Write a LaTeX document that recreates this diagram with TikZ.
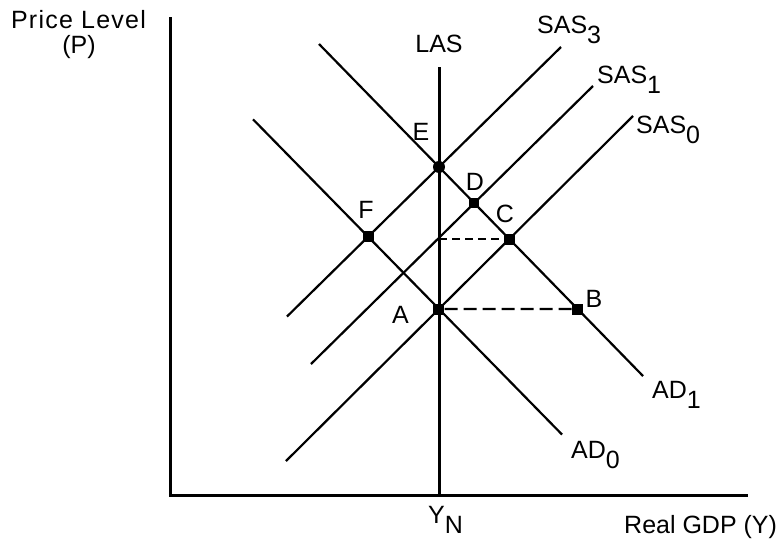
\documentclass[tikz,border=0pt]{standalone}
\usepackage{fontspec}
\setmainfont{Liberation Sans}
\newfontfamily\widefont[LetterSpace=5]{Liberation Sans}
\newcommand{\subdown}[1]{\raisebox{-10pt}{#1}}
\begin{document}
\begin{tikzpicture}[x=1pt,y=-1pt,
  font=\fontsize{25}{29}\selectfont,
  curve/.style={line width=2.2pt},
  axisline/.style={line width=3pt},
  sq/.style={rectangle,fill=black,inner sep=0pt,minimum size=11pt},
  sqsmall/.style={rectangle,fill=black,inner sep=0pt,minimum size=10pt},
  rnd/.style={circle,fill=black,inner sep=0pt,minimum size=12pt},
  lbl/.style={inner sep=0pt,anchor=base},
  lblw/.style={inner sep=0pt,anchor=base west},
  dashlong/.style={line width=2.2pt,dash pattern=on 13pt off 6pt},
  dashshort/.style={line width=2.2pt,dash pattern=on 8pt off 5pt}]
\useasboundingbox (0,0) rectangle (781,542);

% axes
\coordinate (ytop) at (170.5,17);
\coordinate (xend) at (748,495);
\draw[axisline] (ytop) |- (xend);

% LAS
\coordinate (lasT) at (439,67);
\coordinate (lasB) at (439,495);
\draw[axisline] (lasT) -- (lasB);

% AD and SAS lines
\coordinate (ad0a) at (253,119.3);
\coordinate (ad0b) at (562,434.5);
\coordinate (ad1a) at (319,44);
\coordinate (ad1b) at (643,376);
\coordinate (s0a) at (286,461);
\coordinate (s0b) at (633,116);
\coordinate (s1a) at (311,364);
\coordinate (s1b) at (593,86);
\coordinate (s3a) at (287,316.5);
\coordinate (s3b) at (561,47);
\draw[curve] (ad0a) -- (ad0b);
\draw[curve] (ad1a) -- (ad1b);
\draw[curve] (s0a) -- (s0b);
\draw[curve] (s1a) -- (s1b);
\draw[curve] (s3a) -- (s3b);

% points
\coordinate (pA) at (intersection of ad0a--ad0b and lasT--lasB);
\coordinate (pC) at (intersection of s0a--s0b and ad1a--ad1b);
\coordinate (pD) at (intersection of s1a--s1b and ad1a--ad1b);
\coordinate (pE) at (intersection of ad1a--ad1b and lasT--lasB);
\coordinate (pF) at (intersection of ad0a--ad0b and s3a--s3b);
\coordinate (farA) at (pA -| xend);
\coordinate (pB) at (intersection of ad1a--ad1b and pA--farA);
\coordinate (cL) at (pC -| lasT);

\node[sq] (A) at (pA) {};
\node[sq] (B) at (pB) {};
\node[sq] (C) at (pC) {};
\node[sqsmall] (D) at (pD) {};
\node[rnd] (E) at (pE) {};
\node[sq] (F) at (pF) {};

\draw[dashlong] (A) -- (B);
\draw[dashshort] (cL) -- (C);

% labels
\node[lbl] (tPL) at (78.5,28) {\widefont Price Level};
\node[lbl] (tP) at (79,53) {(P)};
\node[lbl] (tLAS) at (439,52) {LAS};
\node[lbl] (tE) at (421,140) {E};
\node[lbl] (tD) at (475,190) {D};
\node[lbl] (tC) at (505,222) {C};
\node[lbl] (tF) at (366,218) {F};
\node[lbl] (tA) at (400.5,323) {A};
\node[lbl] (tB) at (594,307) {B};
\node[lblw] (tS3) at (537,33) {SAS\subdown{3}};
\node[lblw] (tS1) at (597,83) {SAS\subdown{1}};
\node[lblw] (tS0) at (636,133) {SAS\subdown{0}};
\node[lblw] (tAD1) at (652,398) {AD\subdown{1}};
\node[lblw] (tAD0) at (571,458) {AD\subdown{0}};
\node[lblw] (tYN) at (428,523) {Y\subdown{N}};
\node[lblw] (tX) at (624,533) {Real GDP (Y)};
\end{tikzpicture}
\end{document}
